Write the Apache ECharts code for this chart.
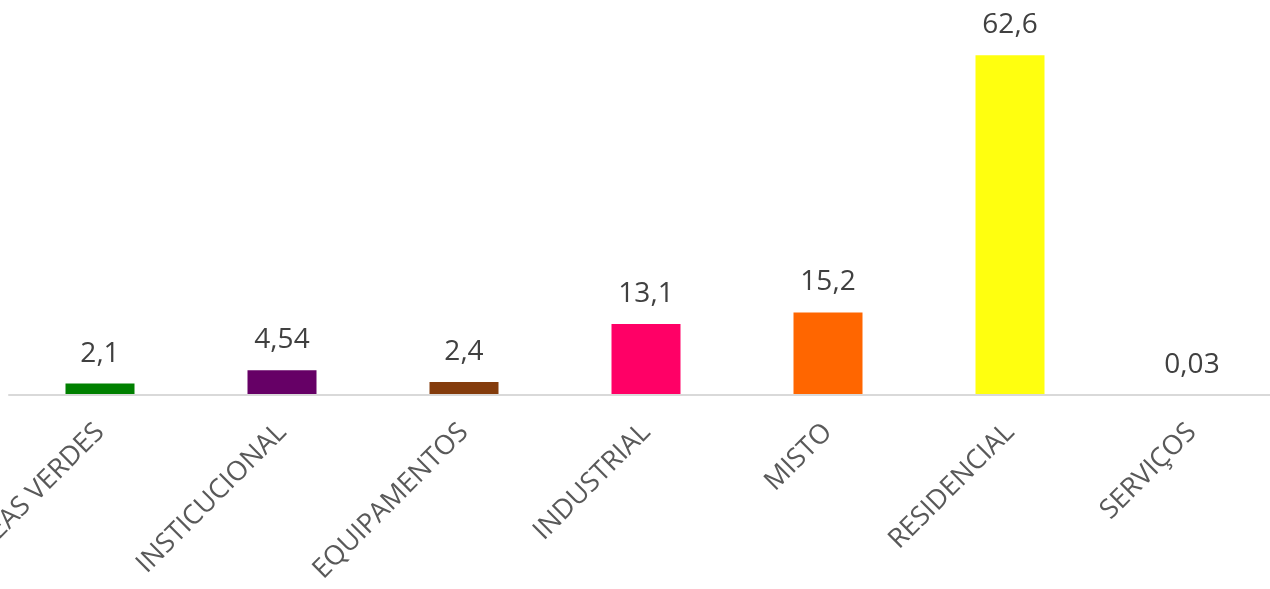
<!DOCTYPE html>
<html>
<head>
<meta charset="utf-8">
<script src="https://cdn.jsdelivr.net/npm/echarts@6/dist/echarts.min.js"></script>
<style>
  html, body { margin: 0; padding: 0; background: #fff; }
  #chart { width: 1270px; height: 589px; }
</style>
</head>
<body>
<div id="chart"></div>
<script>
// uso do solo (%)
const categories = ["ÁREAS VERDES", "INSTICUCIONAL", "EQUIPAMENTOS", "INDUSTRIAL", "MISTO", "RESIDENCIAL", "SERVIÇOS"];
const values = [2.1, 4.54, 2.4, 13.1, 15.2, 62.6, 0.03];
const barColors = ["#008000", "#660066", "#843C0C", "#FF0066", "#FF6600", "#FFFF0F", "#0070C0"];

const chart = echarts.init(document.getElementById("chart"));
const option = {
  animation: false,
  grid: {
    left: 9,
    right: -13,
    top: 15,
    bottom: 194,
    containLabel: false,
    outerBoundsMode: "none"
  },
  xAxis: {
    type: "category",
    data: categories,
    z: 5,
    axisLine: {
      show: true,
      lineStyle: { color: "#D9D9D9", width: 2 }
    },
    axisTick: { show: false },
    axisLabel: {
      interval: 0,
      rotate: 45,
      margin: 33,
      color: "#595959",
      fontFamily: "Open Sans",
      fontSize: 27
    }
  },
  yAxis: {
    type: "value",
    min: 0,
    max: 70,
    show: false,
    splitLine: { show: false }
  },
  series: [
    {
      type: "bar",
      barWidth: 69,
      data: values.map((v, i) => ({
        value: v,
        itemStyle: { color: barColors[i] }
      })),
      label: {
        show: true,
        position: "top",
        distance: 16,
        color: "#404040",
        fontFamily: "Open Sans",
        fontSize: 28,
        formatter: (p) => String(p.value).replace(".", ",")
      }
    }
  ]
};
chart.setOption(option);
</script>
</body>
</html>
